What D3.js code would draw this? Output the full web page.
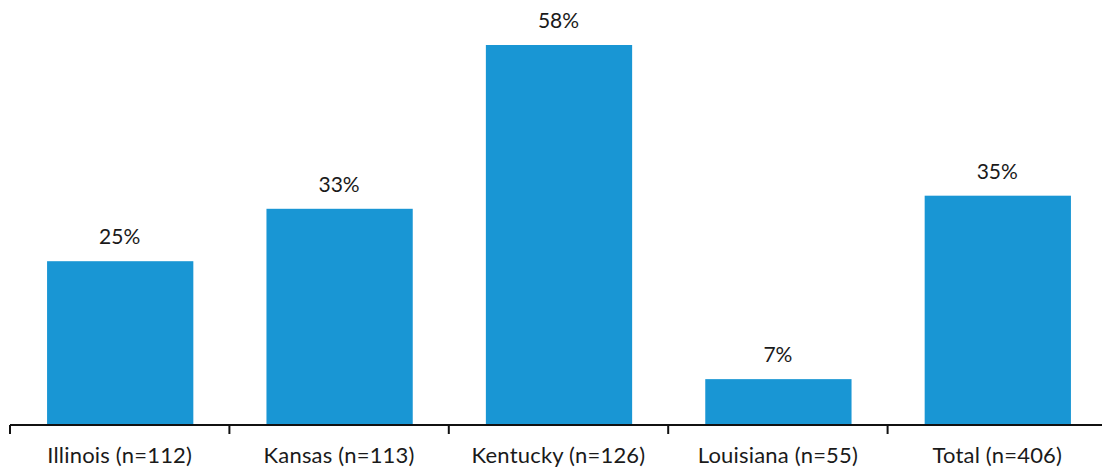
<!DOCTYPE html>
<html><head><meta charset="utf-8">
<script src="https://cdn.jsdelivr.net/npm/d3@7"></script>
<style>body{margin:0;background:#fff}svg{display:block}</style>
</head><body>
<svg id="c" width="1102" height="471"></svg>
<script>
const categories = ["Illinois (n=112)", "Kansas (n=113)", "Kentucky (n=126)", "Louisiana (n=55)", "Total (n=406)"];
const values = [25, 33, 58, 7, 35];
const valueLabels = ["25%", "33%", "58%", "7%", "35%"];

const svg = d3.select("#c");
const x = d3.scaleBand().domain(categories).range([10, 1107]).padding(0);
const y = d3.scaleLinear().domain([0, 58]).range([425, 45]);
const bw = x.bandwidth();
const font = "Lato, 'Noto Sans', sans-serif";

svg.selectAll("rect.bar").data(values).join("rect")
  .attr("class", "bar")
  .attr("x", (d, i) => x(categories[i]) + bw / 6 + 0.5)
  .attr("width", bw * 2 / 3)
  .attr("y", d => y(d))
  .attr("height", d => y(0) - y(d))
  .attr("fill", "#1996d4");

svg.selectAll("text.val").data(values).join("text")
  .attr("class", "val")
  .attr("x", (d, i) => x(categories[i]) + bw / 2)
  .attr("y", d => y(d) - 17)
  .attr("text-anchor", "middle")
  .attr("font-family", font).attr("font-size", 21).attr("fill", "#1a1a1a")
  .text((d, i) => valueLabels[i]);

const axis = d3.axisBottom(x).tickSize(0).tickPadding(0).tickFormat("");
const g = svg.append("g").attr("transform", `translate(0,${y(0)})`).call(axis);
g.select(".domain").attr("stroke", "#111").attr("stroke-width", 2).attr("d", "M10,0H1107");
const bounds = categories.map(c => x(c)).concat([x(categories[categories.length-1]) + bw]);
g.selectAll("line.bt").data(bounds).join("line")
  .attr("class", "bt")
  .attr("x1", d => d).attr("x2", d => d)
  .attr("y1", 0).attr("y2", 9)
  .attr("stroke", "#111").attr("stroke-width", 2);
g.selectAll("text.cat").data(categories).join("text")
  .attr("class", "cat")
  .attr("x", d => x(d) + bw / 2)
  .attr("y", 38)
  .attr("text-anchor", "middle")
  .attr("font-family", font).attr("font-size", 22).attr("letter-spacing", 0.2).attr("fill", "#1a1a1a")
  .text(d => d);
</script>
</body></html>
